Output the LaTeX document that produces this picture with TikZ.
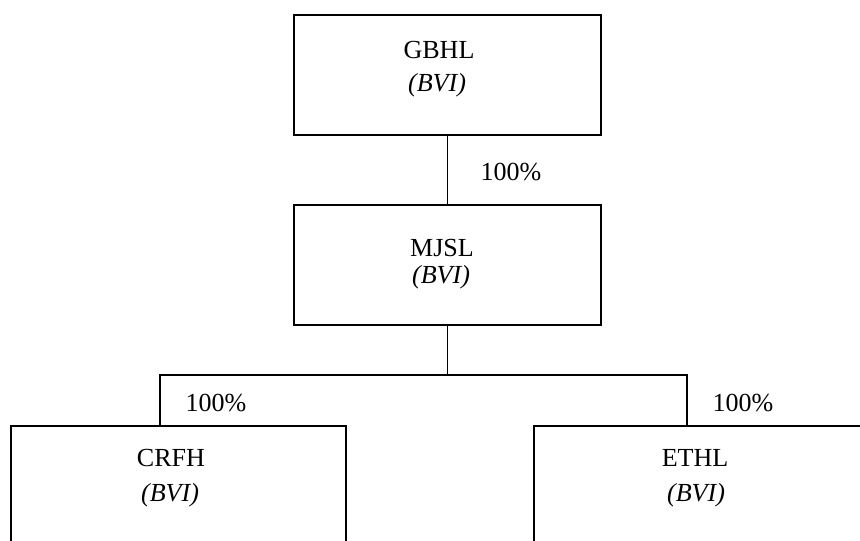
\documentclass[tikz,border=0pt]{standalone}
\usepackage{fontspec}
\setmainfont{Liberation Serif}

\begin{document}
\begin{tikzpicture}[x=0.48pt,y=-0.48pt,line width=0.8pt]

      \useasboundingbox (0,0) rectangle (860,540);
      \clip (0,0) rectangle (860,540);

      \begin{scope}[every node/.style={draw,rectangle,minimum height=57.6pt}]
        \node[minimum width=147.4pt] (gbhl)  at (447.5,75)  {};
        \node[minimum width=147.4pt] (mjsl)  at (447.5,265) {};
        \node[minimum width=160.8pt] (crfh)  at (178.5,486) {};
        \node[minimum width=160.8pt] (ethl)  at (701.5,486) {};
      \end{scope}

      \begin{scope}[every node/.style={inner sep=0pt,font=\fontsize{12.5pt}{15pt}\selectfont}]
        \node (gbhl-name) at (439,50)  {GBHL};
        \node (gbhl-loc)  at (437,85)  {\textit{(BVI)}};
        \node (mjsl-name) at (442,248) {MJSL};
        \node (mjsl-loc)  at (441,277) {\textit{(BVI)}};
        \node (crfh-name) at (171,458) {CRFH};
        \node (crfh-loc)  at (170,495) {\textit{(BVI)}};
        \node (ethl-name) at (695,458) {ETHL};
        \node (ethl-loc)  at (696,495) {\textit{(BVI)}};
      \end{scope}

      \coordinate (split-l) at (160,375);
      \coordinate (split-r) at (687,375);

      \draw (gbhl.south) -- (mjsl.north);
      \draw (mjsl.south) -- (mjsl.south |- split-l);
      \draw (crfh.north -| split-l) -- (split-l) -- (split-r) -- (ethl.north -| split-r);

      \begin{scope}[every node/.style={inner sep=0pt,font=\fontsize{12.5pt}{15pt}\selectfont}]
        \node (share-mjsl) at (511,172) {100\%};
        \node (share-crfh) at (216,403) {100\%};
        \node (share-ethl) at (743,403) {100\%};
      \end{scope}

    \end{tikzpicture}
\end{document}
